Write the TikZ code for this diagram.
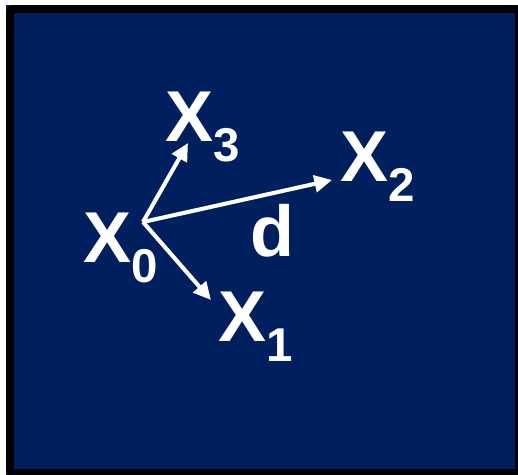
\documentclass[tikz,border=0pt]{standalone}
\usepackage{fontspec}
\setmainfont{Liberation Sans}
\definecolor{slidenavy}{RGB}{0,31,94}
\usetikzlibrary{arrows.meta}
\newcommand{\xsub}[1]{X\raisebox{-11pt}{\fontsize{27}{27}\selectfont #1}}

\begin{document}
\begin{tikzpicture}[x=0.02cm,y=-0.02cm,
  lbl/.style={anchor=base west,inner sep=0pt,text=white,font=\fontsize{41}{41}\selectfont\bfseries},
  vec/.style={white,line width=2.3pt,-{Triangle[length=10pt,width=9.5pt]}}]

  \useasboundingbox (0,0) rectangle (518,475);

  % Frame
  \fill[slidenavy] (6,5) rectangle (523,477);
  \draw[black,line width=4.5pt,rounded corners=2pt] (10,9) rectangle (519,473);

  % Labels
  \node[lbl] (x0) at (83,263) {\xsub{0}};
  \node[lbl] (x3) at (165,142) {\xsub{3}};
  \node[lbl] (x2) at (340,182) {\xsub{2}};
  \node[lbl] (x1) at (218,342) {\xsub{1}};
  \node[lbl] (d) at (250,257) {d};

  % Vectors from x0
  \coordinate (o) at (143,222);
  \coordinate (tip3) at (188,143);
  \coordinate (tip2) at (332,180);
  \coordinate (tip1) at (211,300);
  \draw[vec] (o) -- (tip3);
  \draw[vec] (o) -- (tip2);
  \draw[vec] (o) -- (tip1);

\end{tikzpicture}
\end{document}
